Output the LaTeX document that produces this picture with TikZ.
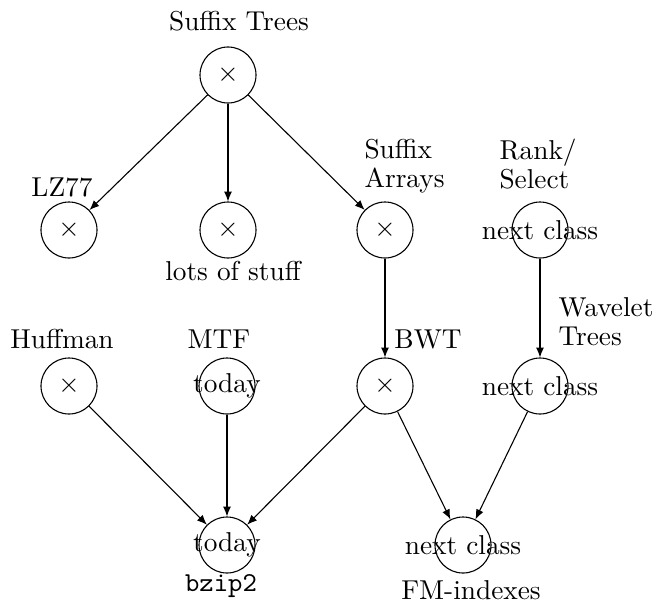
\documentclass[tikz,border=0pt]{standalone}
\usetikzlibrary{arrows.meta}
\begin{document}
\begin{tikzpicture}[x=0.366pt,y=-0.366pt,
  topic/.style={circle,draw,line width=0.4pt,minimum size=20.5pt,inner sep=0pt},
  lbl/.style={inner sep=0pt,anchor=base,font=\fontsize{10}{12}\selectfont},
  lbll/.style={inner sep=0pt,anchor=base west,align=left,font=\fontsize{10}{10.5}\selectfont},
  ctext/.style={inner sep=0pt,font=\fontsize{10}{12}\selectfont},
  edge/.style={-{Latex[length=3.6pt,width=2.9pt]},line width=0.4pt}]
\useasboundingbox (0,0) rectangle (659,609);
% circles
\node[topic] (st) at (228,75) {};
\node[topic] (lz) at (69,230) {};
\node[topic] (ls) at (228,230) {};
\node[topic] (sa) at (385,230) {};
\node[topic] (rs) at (540,230) {};
\node[topic] (hf) at (69,386) {};
\node[topic] (mtf) at (227,386) {};
\node[topic] (bwt) at (385,386) {};
\node[topic] (wt) at (540,386) {};
\node[topic] (bz) at (227,545) {};
\node[topic] (fm) at (463,545) {};
% contents
\node[ctext] (stx) at (st) {$\times$};
\node[ctext] (lzx) at (lz) {$\times$};
\node[ctext] (lsx) at (ls) {$\times$};
\node[ctext] (sax) at (sa) {$\times$};
\node[ctext] (rsx) at (rs) {next class};
\node[ctext] (hfx) at (hf) {$\times$};
\node[ctext] (mtfx) at (mtf) {today};
\node[ctext] (bwtx) at (bwt) {$\times$};
\node[ctext] (wtx) at (wt) {next class};
\node[ctext] (bzx) at (bz) {today};
\node[ctext] (fmx) at (fm) {next class};
% labels
\node[lbl] (stl) at (239,30) {Suffix Trees};
\node[lbl] (lzl) at (62,196) {LZ77};
\node[lbl] (lsl) at (233,280) {lots of stuff};
\node[lbll] (sal) at (364,187) {Suffix\\Arrays};
\node[lbll] (rsl) at (499,188) {Rank/\\Select};
\node[lbll] (wtl) at (558,345) {Wavelet\\Trees};
\node[lbl] (hfl) at (62,348) {Huffman};
\node[lbl] (mtfl) at (219,348) {MTF};
\node[lbl] (bwtl) at (428,348) {BWT};
\node[lbl] (bzl) at (221,591) {\texttt{bzip2}};
\node[lbl] (fml) at (471,599) {FM-indexes};
% edges
\draw[edge] (st) -- (lz);
\draw[edge] (st) -- (ls);
\draw[edge] (st) -- (sa);
\draw[edge] (sa) -- (bwt);
\draw[edge] (rs) -- (wt);
\draw[edge] (hf) -- (bz);
\draw[edge] (mtf) -- (bz);
\draw[edge] (bwt) -- (bz);
\draw[edge] (bwt) -- (fm);
\draw[edge] (wt) -- (fm);
\end{tikzpicture}
\end{document}
